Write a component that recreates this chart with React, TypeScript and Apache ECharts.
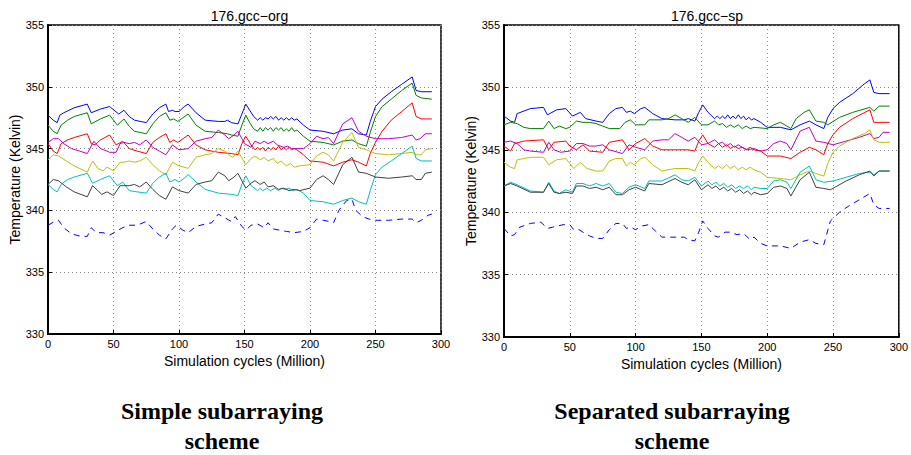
import React, { useEffect, useRef } from "react";
import * as echarts from "echarts";

// ---------------- Data (x: Million cycles, y: Kelvin) ----------------
const titles = ["176.gcc−org", "176.gcc−sp"];
const captions = [["Simple subarraying", "scheme"], ["Separated subarraying", "scheme"]];
const xLabelName = "Simulation cycles (Million)";
const yLabelName = "Temperature (Kelvin)";

const orgBlue = [[0,347.7],[4,347.3],[7,347.1],[9,347.7],[12,347.9],[20,348.3],[30,348.6],[33,347.9],[40,348.2],[47,348.4],[54,347.8],[58,348.1],[62,347.6],[66,347.3],[75,347.1],[80,347.8],[85,348.3],[90,348.6],[92,348.0],[95,348.1],[97,348.0],[100,348.0],[104,348.4],[107,348.6],[113,347.9],[120,347.3],[130,347.2],[135,347.2],[137,347.3],[140,347.1],[145,347.0],[148,347.8],[151,348.6],[154,348.1],[157,347.6],[160,347.3],[162,347.5],[164,347.3],[166,347.5],[168,347.4],[170,347.6],[172,347.4],[174,347.6],[176,347.3],[178,347.5],[180,347.3],[182,347.5],[184,347.3],[186,347.5],[188,347.3],[190,347.4],[195,346.9],[200,346.5],[210,346.4],[218,346.2],[225,346.5],[232,346.6],[237,346.2],[243,346.1],[246,347.2],[250,348.4],[255,349.0],[262,349.6],[270,350.2],[278,350.8],[281,349.7],[285,349.6],[293,349.6]];
const orgGreen = [[0,346.9],[4,346.4],[7,346.2],[10,346.9],[15,347.3],[20,347.6],[30,347.9],[33,347.0],[40,347.4],[47,347.7],[53,346.9],[58,347.4],[62,346.8],[66,346.4],[75,346.2],[80,347.0],[85,347.6],[90,347.9],[93,347.3],[96,347.4],[99,347.2],[103,347.5],[107,347.8],[113,346.9],[120,346.4],[130,346.3],[137,346.2],[140,346.1],[145,346.0],[148,346.9],[151,347.7],[154,347.1],[157,346.6],[160,346.4],[162,346.7],[164,346.4],[166,346.7],[168,346.5],[170,346.7],[172,346.4],[174,346.7],[176,346.5],[178,346.7],[180,346.4],[182,346.6],[184,346.4],[186,346.7],[188,346.4],[190,346.5],[195,346.0],[200,345.6],[210,345.5],[218,345.3],[225,345.6],[232,345.7],[237,345.4],[243,345.2],[246,346.3],[250,347.6],[255,348.4],[262,349.0],[270,349.7],[278,350.3],[281,349.3],[285,349.1],[293,349.0]];
const orgRed = [[0,345.4],[4,344.8],[7,344.6],[10,345.4],[15,345.7],[20,345.9],[30,346.2],[33,345.4],[36,345.3],[40,345.7],[47,346.1],[52,345.3],[57,345.6],[62,345.0],[68,344.8],[75,344.6],[80,345.5],[85,345.9],[90,346.2],[93,345.5],[96,345.7],[99,345.5],[103,345.8],[107,346.1],[113,345.3],[120,344.9],[130,344.7],[140,344.6],[145,344.5],[148,345.4],[151,346.0],[155,345.3],[158,344.9],[160,345.1],[162,344.9],[164,345.1],[166,344.8],[168,345.1],[170,344.9],[172,345.1],[174,344.9],[176,345.2],[178,344.9],[180,345.1],[182,344.9],[184,345.1],[186,344.9],[188,345.0],[190,344.9],[195,344.5],[200,344.0],[210,343.9],[218,343.6],[225,343.9],[232,344.1],[237,343.9],[243,343.6],[246,344.6],[250,345.5],[255,346.4],[262,347.3],[270,348.0],[278,348.7],[281,347.6],[285,347.4],[293,347.4]];
const orgMagenta = [[0,345.5],[4,345.8],[8,345.8],[12,345.4],[18,345.0],[24,344.8],[30,344.6],[33,345.2],[35,345.6],[40,345.0],[45,344.8],[47,344.7],[52,344.7],[55,345.4],[58,345.5],[62,345.4],[66,345.5],[70,345.3],[75,345.7],[80,345.1],[85,344.8],[90,344.5],[95,345.3],[100,344.9],[107,345.0],[113,345.6],[120,345.8],[125,345.9],[130,346.5],[135,346.1],[138,345.8],[142,346.1],[145,346.4],[150,345.4],[155,345.1],[158,345.6],[162,345.4],[165,345.6],[168,345.4],[172,345.6],[175,345.3],[180,345.1],[183,345.2],[186,345.0],[190,345.0],[195,345.0],[200,345.4],[205,346.0],[210,345.8],[214,345.9],[218,345.4],[225,347.0],[232,347.5],[237,346.4],[243,346.0],[250,345.8],[260,345.8],[270,345.9],[278,346.1],[281,345.7],[284,345.8],[288,346.2],[293,346.2]];
const orgYellow = [[0,344.1],[4,344.5],[8,344.4],[14,344.0],[20,343.6],[30,343.1],[34,344.0],[38,343.4],[42,343.2],[45,343.5],[50,343.2],[55,343.9],[58,343.9],[62,344.0],[66,343.9],[70,344.0],[75,344.3],[80,343.7],[85,343.2],[90,342.9],[95,343.9],[100,343.6],[107,343.4],[113,344.3],[120,344.5],[125,344.6],[130,345.0],[135,344.8],[138,344.5],[141,344.3],[145,344.8],[151,343.7],[155,344.2],[158,344.4],[162,344.1],[165,344.3],[168,344.0],[172,344.2],[175,343.8],[178,344.0],[182,343.6],[185,343.8],[188,343.5],[192,343.6],[200,343.7],[205,344.4],[210,344.7],[214,344.5],[218,344.0],[225,345.5],[232,346.3],[237,345.1],[243,344.9],[250,344.6],[260,344.5],[270,344.6],[278,344.7],[281,344.5],[285,344.5],[288,344.9],[293,345.0]];
const orgCyan = [[0,342.1],[4,341.7],[7,341.5],[10,342.1],[15,342.5],[20,342.7],[30,343.0],[34,342.2],[40,342.5],[47,342.8],[53,342.0],[57,342.3],[62,341.6],[68,341.5],[75,341.4],[80,342.2],[85,342.7],[90,343.0],[93,342.3],[97,342.5],[100,342.3],[104,342.6],[107,342.9],[113,342.3],[120,341.7],[130,341.4],[140,341.3],[145,341.2],[148,342.1],[151,342.8],[155,342.0],[160,341.6],[162,341.8],[164,341.6],[167,341.8],[170,341.6],[173,341.8],[176,341.6],[178,341.8],[181,341.7],[184,341.8],[187,341.6],[190,341.7],[195,341.4],[200,340.8],[210,340.7],[218,340.5],[225,340.8],[232,341.0],[237,340.7],[243,340.5],[246,341.6],[250,342.9],[255,343.5],[262,344.0],[270,344.6],[278,345.2],[281,344.2],[285,344.0],[293,344.0]];
const orgBlack = [[0,342.1],[4,342.5],[8,342.4],[14,341.9],[20,341.5],[30,341.1],[34,342.0],[38,341.6],[41,341.3],[45,341.5],[50,341.2],[55,342.0],[58,342.0],[62,342.0],[66,342.1],[70,341.9],[75,342.3],[80,341.7],[85,341.2],[90,340.9],[95,341.9],[100,341.6],[107,341.4],[113,342.1],[120,342.3],[125,342.4],[130,343.1],[135,342.8],[138,342.4],[142,342.7],[145,343.0],[151,341.8],[155,342.2],[158,342.4],[162,342.1],[165,342.3],[168,341.9],[172,342.0],[176,341.7],[180,341.8],[184,341.6],[188,341.7],[192,341.6],[200,341.8],[205,342.5],[210,342.8],[214,342.5],[218,342.1],[225,343.7],[232,344.3],[237,343.1],[243,343.0],[250,342.7],[260,342.6],[270,342.7],[278,342.8],[281,342.5],[285,342.5],[288,343.0],[293,343.1]];
const orgDashed = [[0,338.8],[5,339.1],[8,339.2],[12,338.6],[18,338.1],[25,337.9],[30,337.9],[33,338.6],[37,338.2],[42,338.2],[47,338.0],[52,338.3],[57,338.6],[62,338.8],[68,338.8],[75,339.1],[80,338.5],[85,338.0],[90,337.7],[95,338.5],[98,338.8],[103,338.4],[107,338.2],[113,338.7],[120,338.9],[125,339.0],[130,339.7],[135,339.4],[140,339.1],[143,339.5],[148,338.7],[151,338.4],[155,338.8],[160,338.9],[165,338.6],[168,339.0],[172,338.5],[177,338.4],[182,338.3],[188,338.2],[195,338.3],[200,338.6],[205,339.3],[210,339.2],[215,339.1],[218,339.0],[222,340.0],[228,340.8],[232,340.9],[235,340.0],[240,339.5],[245,339.3],[250,339.2],[260,339.2],[270,339.3],[278,339.3],[281,339.0],[285,339.2],[290,339.6],[293,339.7]];

const spBlue = [[0,347.7],[5,347.3],[8,347.2],[10,347.9],[20,348.3],[30,348.4],[33,347.8],[40,348.2],[47,348.3],[52,347.7],[58,348.0],[62,347.5],[70,347.3],[75,347.2],[80,347.9],[85,348.3],[90,348.4],[93,348.0],[96,348.1],[99,347.9],[104,348.3],[107,348.4],[113,347.9],[120,347.5],[130,347.4],[137,347.4],[140,347.5],[145,347.3],[148,348.0],[151,348.6],[155,348.0],[160,347.5],[162,347.7],[164,347.5],[166,347.7],[168,347.5],[170,347.8],[172,347.5],[174,347.7],[176,347.5],[178,347.8],[180,347.5],[182,347.7],[184,347.4],[186,347.6],[188,347.4],[190,347.5],[195,347.2],[200,346.8],[210,346.8],[218,346.6],[225,347.0],[232,347.3],[237,347.0],[243,346.7],[246,347.6],[250,348.3],[255,348.8],[265,349.5],[274,350.3],[278,350.6],[281,349.6],[285,349.5],[293,349.5]];
const spGreen = [[0,347.0],[5,347.2],[10,347.1],[15,346.8],[20,346.7],[30,346.7],[34,347.3],[38,346.7],[42,346.9],[47,346.7],[50,346.8],[55,347.3],[60,347.2],[65,347.2],[70,347.1],[75,346.9],[80,346.7],[88,346.7],[92,347.2],[96,347.4],[100,347.0],[107,347.0],[110,347.4],[120,347.4],[125,347.5],[130,347.8],[135,347.5],[140,347.2],[145,347.6],[150,347.0],[155,347.0],[160,347.3],[163,347.0],[166,347.1],[169,346.8],[172,347.0],[175,346.8],[178,347.0],[181,346.7],[184,346.9],[187,346.7],[190,346.8],[200,346.7],[205,347.0],[210,347.2],[215,346.9],[218,346.7],[222,347.5],[228,348.0],[232,348.2],[237,347.3],[243,347.2],[246,347.0],[255,347.6],[265,348.0],[278,348.4],[281,348.1],[285,348.5],[293,348.5]];
const spRed = [[0,345.3],[5,344.9],[8,345.5],[15,345.7],[30,345.8],[34,345.0],[38,345.6],[47,345.7],[50,345.3],[55,345.0],[60,345.4],[65,344.9],[75,344.8],[80,345.6],[90,345.8],[95,345.0],[100,345.5],[107,345.9],[113,345.3],[120,345.0],[130,345.0],[140,345.0],[145,344.9],[148,345.7],[151,346.2],[155,345.5],[160,345.2],[163,345.5],[166,345.2],[169,345.4],[172,345.1],[175,345.3],[178,345.1],[181,345.2],[184,345.0],[187,345.2],[190,345.0],[195,344.9],[200,344.5],[210,344.5],[218,344.3],[225,344.8],[232,345.2],[237,345.0],[243,344.6],[246,345.5],[250,346.2],[255,346.8],[265,347.5],[278,348.2],[281,347.2],[293,347.2]];
const spMagenta = [[0,345.6],[5,345.7],[10,345.5],[15,345.0],[20,344.9],[30,344.8],[34,345.6],[38,345.0],[43,344.8],[50,344.9],[55,345.5],[60,345.5],[65,345.3],[70,345.3],[75,345.4],[80,345.0],[90,344.7],[95,345.4],[100,345.2],[107,345.0],[113,345.7],[120,345.8],[125,345.8],[130,346.3],[135,346.0],[140,345.7],[145,346.0],[150,345.4],[155,345.5],[160,345.8],[163,345.5],[166,345.6],[169,345.3],[172,345.5],[175,345.2],[178,345.4],[181,345.2],[185,345.0],[190,345.1],[195,344.9],[200,345.0],[205,345.5],[210,345.7],[215,345.5],[218,345.0],[225,346.5],[232,346.8],[237,345.7],[243,345.6],[250,345.4],[260,345.7],[270,346.0],[278,346.3],[281,345.9],[285,346.0],[288,346.4],[293,346.4]];
const spYellow = [[0,344.0],[5,343.6],[8,343.5],[10,344.2],[20,344.4],[30,344.4],[34,343.8],[40,344.2],[47,344.3],[53,343.5],[58,344.0],[63,343.5],[70,343.3],[75,343.3],[80,344.1],[85,344.3],[90,344.3],[93,343.7],[96,344.0],[99,343.8],[104,344.3],[107,344.4],[113,343.8],[120,343.3],[130,343.5],[140,343.5],[145,343.3],[148,344.0],[151,344.5],[155,344.0],[160,343.5],[163,343.7],[166,343.5],[169,343.8],[172,343.5],[175,343.7],[178,343.4],[181,343.6],[184,343.4],[187,343.6],[190,343.4],[195,343.2],[200,342.8],[210,342.7],[218,342.6],[225,343.0],[232,343.3],[237,343.1],[243,342.9],[246,343.9],[250,344.8],[255,345.3],[265,345.9],[274,346.3],[278,346.6],[281,345.8],[285,345.6],[293,345.6]];
const spCyan = [[0,342.1],[5,342.4],[10,342.2],[20,341.7],[30,341.6],[34,342.4],[38,341.7],[42,341.5],[47,341.8],[52,341.6],[55,342.3],[60,342.3],[65,342.1],[70,342.3],[75,342.1],[80,342.3],[85,341.6],[90,341.5],[95,342.0],[100,342.2],[107,341.9],[110,342.5],[120,342.5],[130,343.0],[135,342.6],[140,342.5],[145,342.8],[150,342.1],[155,342.5],[158,342.2],[161,342.4],[164,342.1],[167,342.3],[170,342.0],[173,342.2],[176,341.9],[179,342.1],[182,341.9],[185,342.1],[188,341.8],[190,342.0],[195,341.9],[200,341.9],[205,342.5],[210,342.6],[215,342.4],[218,341.9],[225,343.2],[232,343.7],[237,342.6],[243,342.4],[250,342.5],[260,342.8],[270,343.1],[278,343.2],[281,343.0],[285,343.3],[293,343.3]];
const spBlack = [[0,342.1],[5,342.3],[10,342.1],[20,341.6],[30,341.6],[34,342.3],[38,341.6],[42,341.5],[47,341.6],[52,341.5],[55,342.1],[60,342.1],[65,341.9],[70,342.0],[75,341.8],[80,342.0],[85,341.4],[90,341.4],[95,341.8],[100,342.0],[107,341.7],[110,342.3],[120,342.2],[130,342.7],[135,342.4],[140,342.2],[145,342.6],[150,341.8],[155,342.2],[158,341.9],[161,342.1],[164,341.8],[167,342.0],[170,341.7],[173,341.9],[176,341.6],[179,341.8],[182,341.5],[185,341.7],[188,341.4],[190,341.6],[195,341.4],[200,341.5],[205,342.0],[210,342.1],[215,341.9],[218,341.3],[225,342.6],[232,343.2],[237,342.0],[243,341.9],[248,341.8],[260,342.5],[270,343.0],[278,343.3],[281,342.9],[285,343.3],[293,343.3]];
const spDashed = [[0,338.7],[5,338.1],[8,338.2],[12,338.8],[20,339.1],[28,339.2],[33,338.7],[37,338.8],[45,339.0],[50,339.0],[53,338.6],[57,338.6],[60,338.4],[65,338.1],[70,337.9],[75,337.9],[80,338.6],[85,339.1],[90,339.1],[93,338.7],[96,338.8],[100,338.6],[105,338.9],[110,339.0],[115,338.5],[120,338.0],[130,338.0],[137,338.0],[140,337.8],[145,337.7],[148,338.4],[151,339.3],[155,338.7],[160,338.1],[163,338.0],[168,338.4],[172,338.4],[177,338.2],[182,338.3],[187,337.8],[190,338.0],[195,337.5],[200,337.3],[210,337.3],[218,337.1],[225,337.6],[232,337.8],[237,337.5],[243,337.4],[248,339.3],[255,340.0],[262,340.5],[270,341.0],[278,341.5],[281,340.6],[285,340.3],[293,340.3]];

const orgSeries = [orgBlue, orgGreen, orgRed, orgMagenta, orgYellow, orgCyan, orgBlack, orgDashed];
const spSeries = [spBlue, spGreen, spRed, spMagenta, spYellow, spCyan, spBlack, spDashed];
const seriesColors = ["#0000FF", "#008000", "#FF0000", "#BF00BF", "#BFBF00", "#00BFBF", "#404040", "#0000FF"];
const seriesDashed = [false, false, false, false, false, false, false, true];

// ---------------- Layout ----------------
const grids = [
  { left: 48, top: 25, width: 393, height: 309 },
  { left: 504, top: 25, width: 396, height: 312 },
];

export default function App() {
  const ref = useRef<HTMLDivElement>(null);
  useEffect(() => {
    document.body.style.margin = "0";
    const chart = echarts.init(ref.current!, null, { renderer: "svg" });
    const font = "Liberation Sans, Arial, sans-serif";
    const xAxes = grids.map((_, i) => ({
      type: "value", gridIndex: i, min: 0, max: 300, interval: 50,
      name: xLabelName, nameLocation: "middle", nameGap: 16,
      nameTextStyle: { fontFamily: font, fontSize: 14, color: "#000", verticalAlign: "top" },
      axisLine: { show: true, lineStyle: { color: "#000", width: 2 } },
      axisTick: { show: true, inside: true, length: 4, lineStyle: { color: "#000" } },
      axisLabel: { fontFamily: font, fontSize: 11, color: "#000", margin: 4 },
      splitLine: { show: true, lineStyle: { type: [1, 3], color: "#888", width: 1 } },
    }));
    const yAxes = grids.map((_, i) => ({
      type: "value", gridIndex: i, min: 330, max: 355, interval: 5,
      name: yLabelName, nameLocation: "middle", nameGap: 25,
      nameTextStyle: { fontFamily: font, fontSize: 14, color: "#000" },
      axisLine: { show: true, lineStyle: { color: "#000", width: 2 } },
      axisTick: { show: true, inside: true, length: 4, lineStyle: { color: "#000" } },
      axisLabel: { fontFamily: font, fontSize: 11, color: "#000", margin: 4 },
      splitLine: { show: true, lineStyle: { type: [1, 3], color: "#888", width: 1 } },
    }));
    const series: any[] = [];
    [orgSeries, spSeries].forEach((group, gi) => {
      group.forEach((data, si) => {
        series.push({
          type: "line", xAxisIndex: gi, yAxisIndex: gi, data,
          showSymbol: false, symbol: "none", smooth: false,
          lineStyle: { color: seriesColors[si], width: 1, type: seriesDashed[si] ? [6, 5] : "solid" },
          itemStyle: { color: seriesColors[si] },
          z: 3,
        });
      });
    });
    const graphic: any[] = [];
    const capCenters = [222, 672];
    captions.forEach((lines, i) => {
      lines.forEach((t, li) => {
        graphic.push({
          type: "text", x: capCenters[i], y: 411 + li * 30,
          style: {
            text: t, fill: "#000", font: "bold 24px 'Liberation Serif', 'Times New Roman', serif",
            textAlign: "center", textVerticalAlign: "middle",
          },
        });
      });
    });
    chart.setOption({
      animation: false,
      backgroundColor: "#fff",
      title: titles.map((t, i) => ({
        text: t, left: grids[i].left + grids[i].width / 2, top: 4, textAlign: "center",
        textStyle: { fontFamily: font, fontSize: 14, fontWeight: "normal", color: "#000" },
      })),
      grid: grids.map((g) => ({ ...g, show: true, borderColor: "#000", borderWidth: 1.5, backgroundColor: "transparent" })),
      xAxis: xAxes,
      yAxis: yAxes,
      series,
      graphic,
    });
    return () => chart.dispose();
  }, []);
  return <div ref={ref} style={{ width: 911, height: 455 }} />;
}
